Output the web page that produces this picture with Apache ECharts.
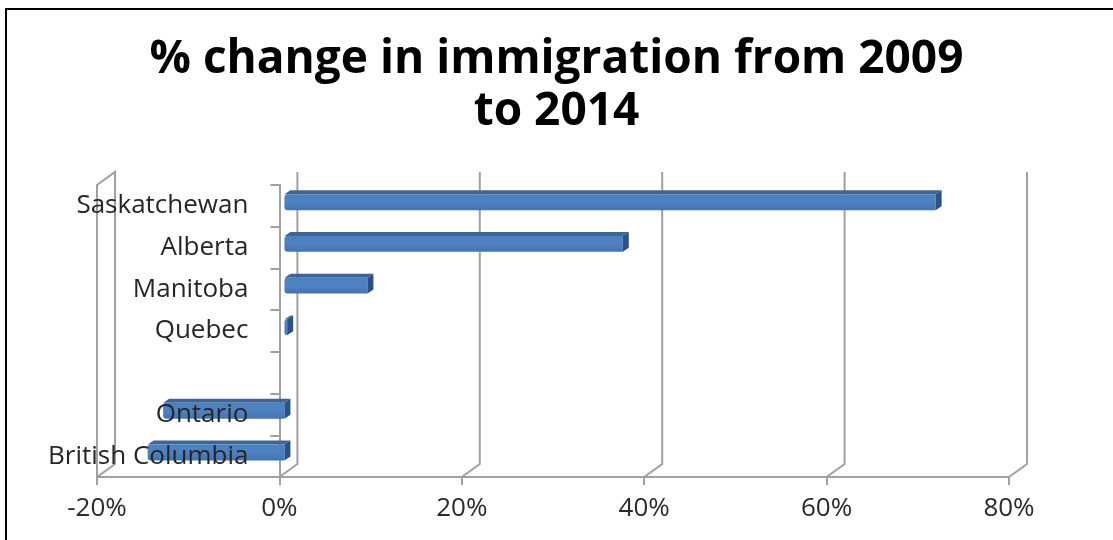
<!DOCTYPE html>
<html>
<head>
<meta charset="utf-8">
<title>% change in immigration from 2009 to 2014</title>
<script src="https://cdn.jsdelivr.net/npm/echarts@6/dist/echarts.min.js"></script>
<style>
  html, body { margin: 0; padding: 0; background: #ffffff; }
  #chart { position: absolute; left: 0; top: 0; width: 1113px; height: 540px; }
  #frame { position: absolute; left: 5px; top: 8px; right: 0; bottom: 0;
           border-left: 2px solid #000; border-top: 2px solid #000; pointer-events: none; }
</style>
</head>
<body>
<div id="chart"></div>
<div id="frame"></div>
<script>
// Provinces, top to bottom (one unnamed row left empty)
const provinces = ['Saskatchewan', 'Alberta', 'Manitoba', 'Quebec', '', 'Ontario', 'British Columbia'];
// Percentage change in immigration, 2009 -> 2014
const pctChange = [71.4, 37.1, 9.1, 0.3, null, -13.3, -15.0];
// Value-axis ticks (percent)
const xTicks = [-20, 0, 20, 40, 60, 80];

// Pseudo-3D styling: offset of the back wall from the front plane
const DX = 18, DY = -13;
const BAR_FRONT = 0.28;        // depth fraction where a bar's front face sits
const CAP_DX = 6, CAP_DY = -4; // visible depth of each bar box
const WALL_COLOR = '#a0a0a0';
const LABEL_FONT = '"Open Sans", sans-serif';
const CAT_LABEL_GAP = 31;      // gap between the zero line and the category names

const chart = echarts.init(document.getElementById('chart'), null, { renderer: 'canvas' });

function renderWall(params, api) {
  const cs = params.coordSys;
  const v = api.value(0);
  const x = api.coord([v, 0])[0];
  const yFloor = cs.y + cs.height;
  const yTop = cs.y;
  const style = { stroke: WALL_COLOR, lineWidth: 2, fill: null };
  if (v === xTicks[0]) {
    // thin side wall at the left end of the value axis
    return {
      type: 'polygon',
      shape: { points: [[x, yFloor], [x, yTop], [x + DX, yTop + DY], [x + DX, yFloor + DY]] },
      style: style
    };
  }
  // back-wall gridline bending down onto the floor edge
  return {
    type: 'polyline',
    shape: { points: [[x + DX, yTop + DY], [x + DX, yFloor + DY], [x, yFloor]] },
    style: style
  };
}

function renderBar(params, api) {
  const v = api.value(0);
  const i = api.value(1);
  if (v == null || isNaN(v)) return null;
  const p0 = api.coord([0, i]);
  const p1 = api.coord([v, i]);
  const band = api.size([0, 1])[1];
  const h = band * 0.38;
  const fx = DX * BAR_FRONT, fy = DY * BAR_FRONT;
  const xl = Math.min(p0[0], p1[0]) + fx;
  const xr = Math.max(p0[0], p1[0]) + fx;
  const yt = p0[1] + fy - h / 2;
  const yb = yt + h;
  return {
    type: 'group',
    children: [
      { // top face
        type: 'polygon',
        shape: { points: [[xl, yt], [xl + CAP_DX, yt + CAP_DY], [xr + CAP_DX, yt + CAP_DY], [xr, yt]] },
        style: { fill: '#3d6698' }
      },
      { // front face
        type: 'rect',
        shape: { x: xl, y: yt, width: xr - xl, height: h, r: [3, 0, 0, 3] },
        style: {
          fill: new echarts.graphic.LinearGradient(0, 0, 0, 1, [
            { offset: 0, color: '#4d80bf' },
            { offset: 0.5, color: '#4f82c0' },
            { offset: 1, color: '#4574b0' }
          ])
        }
      },
      { // end face
        type: 'polygon',
        shape: { points: [[xr, yt], [xr + CAP_DX, yt + CAP_DY], [xr + CAP_DX, yb + CAP_DY], [xr, yb]] },
        style: { fill: '#2c5283' }
      }
    ]
  };
}

// Category names sit beside the zero line, drawn over the negative bars
function renderCategoryLabel(params, api) {
  const i = api.value(1);
  const p = api.coord([0, i]);
  return {
    type: 'text',
    x: p[0] - CAT_LABEL_GAP,
    y: p[1],
    style: {
      text: provinces[i],
      align: 'right',
      verticalAlign: 'middle',
      fontFamily: LABEL_FONT,
      fontSize: 26,
      fill: '#262626'
    }
  };
}

const option = {
  animation: false,
  backgroundColor: '#ffffff',
  title: {
    text: '% change in immigration from 2009\nto 2014',
    left: 'center',
    top: 29,
    textStyle: {
      fontFamily: LABEL_FONT,
      fontWeight: 'bold',
      fontSize: 46,
      lineHeight: 52,
      color: '#000000'
    }
  },
  grid: { left: 97, right: 104, top: 185, bottom: 63, containLabel: false, outerBoundsMode: 'none' },
  xAxis: {
    type: 'value',
    min: xTicks[0],
    max: xTicks[xTicks.length - 1],
    interval: 20,
    axisLine: { show: true, lineStyle: { color: WALL_COLOR, width: 2 } },
    axisTick: { show: true, length: 8, lineStyle: { color: WALL_COLOR, width: 2 } },
    splitLine: { show: false },
    axisLabel: {
      formatter: '{value}%',
      margin: 19,
      fontFamily: LABEL_FONT,
      fontSize: 26,
      color: '#2a2a2a'
    }
  },
  yAxis: {
    type: 'category',
    inverse: true,
    data: provinces,
    axisLine: { show: true, onZero: true, lineStyle: { color: WALL_COLOR, width: 2 } },
    axisTick: { show: true, length: 9, lineStyle: { color: WALL_COLOR, width: 2 } },
    splitLine: { show: false },
    axisLabel: { show: false }
  },
  series: [
    {
      name: 'walls',
      type: 'custom',
      renderItem: renderWall,
      data: xTicks.map(v => [v, 0]),
      encode: { x: 0, y: 1 },
      silent: true,
      z: 1
    },
    {
      name: '% change',
      type: 'custom',
      renderItem: renderBar,
      data: pctChange.map((v, i) => [v, i]),
      encode: { x: 0, y: 1 },
      z: 3
    },
    {
      name: 'province names',
      type: 'custom',
      renderItem: renderCategoryLabel,
      data: provinces.map((name, i) => [0, i]),
      encode: { x: 0, y: 1 },
      silent: true,
      z: 5
    }
  ]
};

chart.setOption(option);
</script>
</body>
</html>
